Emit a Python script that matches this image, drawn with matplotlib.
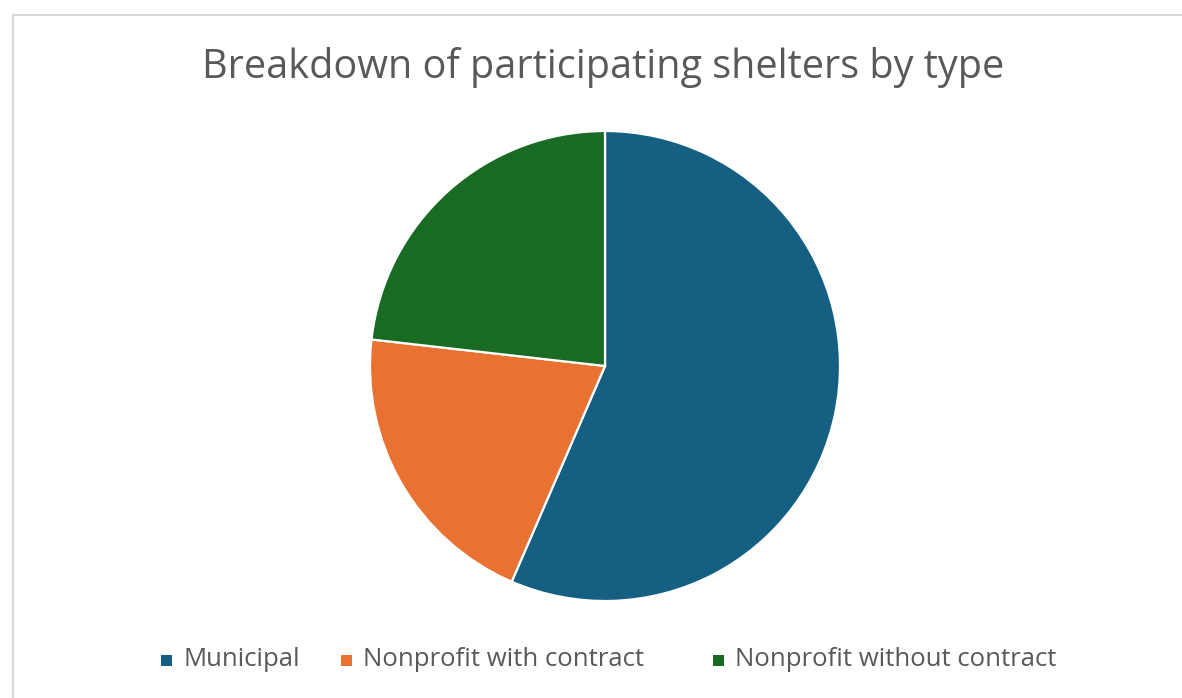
import matplotlib
matplotlib.use("Agg")
import matplotlib.pyplot as plt
from matplotlib.patches import Rectangle

# shares (percent)
labels = ["Municipal", "Nonprofit with contract", "Nonprofit without contract"]
shares = [56.5, 20.3, 23.2]
colors = ["#156082", "#E97132", "#196B24"]

plt.rcParams['font.family'] = ['Open Sans', 'DejaVu Sans']

W, H = 1182, 698
fig = plt.figure(figsize=(W / 100, H / 100), dpi=100)

# light grey chart border (cropped on right and bottom)
fig.patches.append(Rectangle((12.5 / W, -0.05), 1.2, 1 - 14.5 / H + 0.05,
                             transform=fig.transFigure, fill=False,
                             edgecolor="#D9D9D9", linewidth=1.5))

# pie axes: centre (605, 366) px, radius 235 px
cx, cy, r = 605, 366, 235
ax = fig.add_axes([(cx - r) / W, (H - cy - r) / H, 2 * r / W, 2 * r / H])
ax.pie(shares, colors=colors, startangle=90, counterclock=False,
       wedgeprops=dict(edgecolor="white", linewidth=1.6))
ax.set_xlim(-1, 1)
ax.set_ylim(-1, 1)
ax.set_aspect("equal")
ax.axis("off")

fig.text(603 / W, 1 - 68 / H, "Breakdown of participating shelters by type",
         ha="center", va="center", fontsize=28.5, color="#595959")

# legend entries laid out like the Excel legend
leg_x = [161, 341, 713]
leg_y = 660
sq = 11
for x, lab, c in zip(leg_x, labels, colors):
    fig.patches.append(Rectangle((x / W, (H - leg_y - sq / 2) / H), sq / W, sq / H,
                                 transform=fig.transFigure, facecolor=c,
                                 edgecolor="none"))
    fig.text((x + 22) / W, 1 - leg_y / H, lab, ha="left", va="center",
             fontsize=18.5, color="#595959")

fig.savefig("out.png", dpi=100)
